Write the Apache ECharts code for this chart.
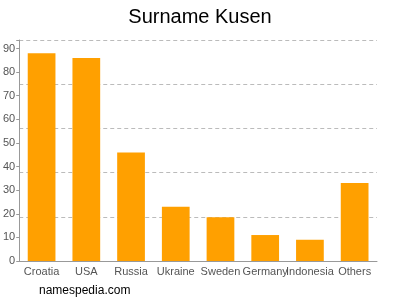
<!DOCTYPE html>
<html><head><meta charset="utf-8">
<script src="https://cdn.jsdelivr.net/npm/echarts@6/dist/echarts.min.js"></script>
<style>html,body{margin:0;padding:0;background:#fff}#c{width:400px;height:300px}</style>
</head><body><div id="c"></div>
<script>
const categories = ['Croatia','USA','Russia','Ukraine','Sweden','Germany','Indonesia','Others'];
const values = [88, 86, 46, 23, 18.5, 11, 9, 33];
const yMax = 93.6;
const chart = echarts.init(document.getElementById('c'), null, {renderer:'canvas'});
chart.setOption({
  animation:false,
  title:{text:'Surname Kusen', left:'center', top:2, textStyle:{fontFamily:'Liberation Sans, Arial, sans-serif', fontSize:20, fontWeight:'normal', color:'#000'}},
  graphic:[{type:'text', left:39, top:285, style:{text:'namespedia.com', fontFamily:'Liberation Sans, Arial, sans-serif', fontSize:12, fill:'#000'}}],
  grid:{left:18, right:23, top:40, bottom:39, containLabel:false},
  xAxis:{type:'category', data:categories,
    axisLine:{lineStyle:{color:'#999'}},
    axisTick:{alignWithLabel:true, length:3, lineStyle:{color:'#999'}},
    axisLabel:{color:'#555', fontFamily:'Liberation Sans, Arial, sans-serif', fontSize:11, margin:5, interval:0}},
  yAxis:[{type:'value', min:0, max:yMax, interval:10,
    axisLine:{show:true, lineStyle:{color:'#999'}},
    axisTick:{show:true, length:3, lineStyle:{color:'#999'}},
    splitLine:{show:false},
    axisLabel:{color:'#555', fontFamily:'Liberation Sans, Arial, sans-serif', fontSize:11, margin:4,
      formatter:v=> (v%10===0 && v<=90) ? String(v) : ''}},
    {type:'value', min:0, max:yMax, interval:yMax/5, position:'left',
    axisLine:{show:false}, axisTick:{show:false}, axisLabel:{show:false},
    splitLine:{show:true, lineStyle:{color:'#bbb', type:[4,3], width:1}}}],
  series:[{type:'bar', data:values, yAxisIndex:0, barWidth:'62%', itemStyle:{color:'#ffa000'}}]
});
</script></body></html>
